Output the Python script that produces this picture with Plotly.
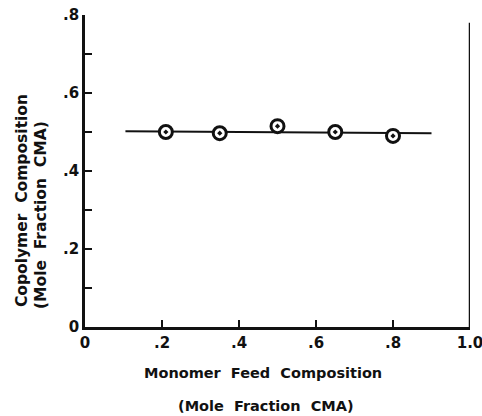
import plotly.graph_objects as go

# Data
feed_x = [0.21, 0.35, 0.50, 0.65, 0.80]
copoly_y = [0.500, 0.497, 0.515, 0.500, 0.490]
fit_x = [0.105, 0.90]
fit_y = [0.502, 0.497]

x_tickvals = [0, 0.2, 0.4, 0.6, 0.8, 1.0]
x_ticktext = ["0", ".2", ".4", ".6", ".8", "1.0"]
y_tickvals = [0, 0.1, 0.2, 0.3, 0.4, 0.5, 0.6, 0.7, 0.8]
y_ticktext = ["0", "", ".2", "", ".4", "", ".6", "", ".8"]

FONT = "DejaVu Sans"
INK = "#111111"

def tfont(size):
    return dict(size=size, family=FONT, weight="bold", color=INK)

fig = go.Figure()
fig.add_trace(go.Scatter(x=fit_x, y=fit_y, mode="lines",
                         line=dict(color=INK, width=2), showlegend=False))
fig.add_trace(go.Scatter(x=feed_x, y=copoly_y, mode="markers",
                         marker=dict(symbol="circle-dot", size=13, color="white",
                                     line=dict(color=INK, width=3)),
                         showlegend=False))

# right-hand frame line
fig.add_shape(type="line", xref="x", yref="y", x0=1.0, x1=1.0, y0=0, y1=0.78,
              line=dict(color=INK, width=2.5))

fig.update_layout(
    width=482, height=416,
    margin=dict(l=85, r=12, t=15, b=89),
    paper_bgcolor="white", plot_bgcolor="white",
    font=dict(family=FONT, color=INK),
    xaxis=dict(range=[0, 1.0], tickvals=x_tickvals, ticktext=x_ticktext,
               ticks="inside", ticklen=7, tickwidth=2, tickcolor=INK,
               showline=True, linecolor=INK, linewidth=2.5, showgrid=False,
               zeroline=False, automargin=False, ticklabeloverflow="allow",
               tickfont=tfont(15)),
    yaxis=dict(range=[0, 0.8], tickvals=y_tickvals, ticktext=y_ticktext,
               ticks="inside", ticklen=7, tickwidth=2, tickcolor=INK,
               showline=True, linecolor=INK, linewidth=2.5, showgrid=False,
               zeroline=False, automargin=False, ticklabeloverflow="allow",
               tickfont=tfont(15)),
    annotations=[
        dict(text="Monomer  Feed  Composition", xref="paper", yref="paper",
             x=0.463, y=-0.147, xanchor="center", yanchor="middle",
             showarrow=False, font=tfont(14.5)),
        dict(text="(Mole  Fraction  CMA)", xref="paper", yref="paper",
             x=0.47, y=-0.253, xanchor="center", yanchor="middle",
             showarrow=False, font=tfont(14.5)),
        dict(text="Copolymer  Composition", xref="paper", yref="paper",
             x=-0.165, y=0.405, xanchor="center", yanchor="middle",
             textangle=-90, showarrow=False, font=tfont(15.5)),
        dict(text="(Mole  Fraction  CMA)", xref="paper", yref="paper",
             x=-0.116, y=0.36, xanchor="center", yanchor="middle",
             textangle=-90, showarrow=False, font=tfont(15.5)),
    ],
)

# remove the browser's default 8px page margin so the figure fills the window
fig.write_html("out.html", config={"displayModeBar": False},
               post_script="document.body.style.margin='0';")
